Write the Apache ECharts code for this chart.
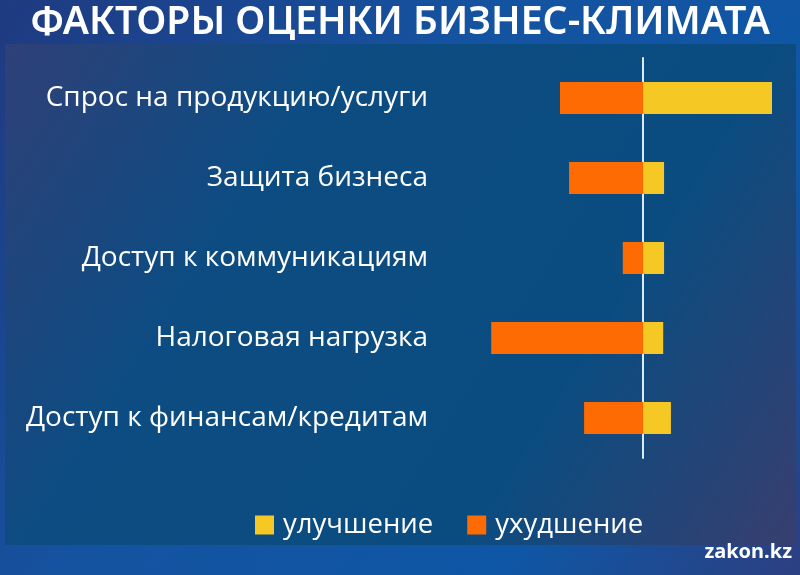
<!DOCTYPE html>
<html>
<head>
<meta charset="utf-8">
<script src="https://cdn.jsdelivr.net/npm/echarts@6/dist/echarts.min.js"></script>
<style>html,body{margin:0;padding:0;background:#174a90;}#chart{width:800px;height:575px;}</style>
</head>
<body>
<div id="chart"></div>
<script>
var titleText = 'ФАКТОРЫ ОЦЕНКИ БИЗНЕС-КЛИМАТА';
var categories = ['Спрос на продукцию/услуги', 'Защита бизнеса', 'Доступ к коммуникациям', 'Налоговая нагрузка', 'Доступ к финансам/кредитам'];
var improvement = [30, 4.9, 4.9, 4.7, 6.5];
var worsening = [-19.3, -17.2, -4.7, -35.3, -13.7];
var seriesNames = ['улучшение', 'ухудшение'];
var watermark = 'zakon.kz';

var chart = echarts.init(document.getElementById('chart'), null, {renderer: 'canvas'});
chart.setOption({
  backgroundColor: 'transparent',
  animation: false,
  graphic: [
    {type: 'rect', z: -10, silent: true, shape: {x: 0, y: 0, width: 800, height: 575},
     style: {fill: new echarts.graphic.LinearGradient(0, 0, 1, 1, [
       {offset: 0, color: '#1f3a80'}, {offset: 0.4, color: '#1553a0'},
       {offset: 0.75, color: '#0e57a6'}, {offset: 1, color: '#2c3f80'}])}},
    {type: 'rect', z: -9, silent: true, shape: {x: 5, y: 44, width: 791, height: 501},
     style: {fill: new echarts.graphic.LinearGradient(0, 0, 1, 1, [
       {offset: 0, color: '#2f4078'}, {offset: 0.3, color: '#0d4c82'},
       {offset: 0.7, color: '#0b4c80'}, {offset: 1, color: '#383e6f'}])}},
    {type: 'text', left: 'center', top: 3, silent: true,
     style: {text: titleText, fill: '#ffffff', font: '600 39px "Noto Sans", "Open Sans", sans-serif'}},
    {type: 'text', right: 8, top: 542, silent: true,
     style: {text: watermark, fill: '#ffffff', font: 'bold 20px "Noto Sans", "Open Sans", sans-serif'}}
  ],
  legend: {
    data: seriesNames,
    left: 250, top: 506,
    itemWidth: 19, itemHeight: 19, itemGap: 34,
    icon: 'rect',
    textStyle: {color: '#ffffff', fontSize: 27.5, fontFamily: '"Open Sans", "Noto Sans", sans-serif', padding: [0, 0, 0, 4]}
  },
  grid: {left: 471, right: 6.5, top: 58, bottom: 117, containLabel: false, outerBoundsMode: 'none'},
  xAxis: {
    type: 'value', min: -40, max: 35,
    show: false, splitLine: {show: false}
  },
  yAxis: {
    type: 'category', data: categories, inverse: true,
    axisLine: {show: true, onZero: true, lineStyle: {color: '#d6ecfb', width: 2}},
    axisTick: {show: false},
    axisLabel: {color: '#ffffff', fontSize: 28, margin: 43, fontFamily: '"Open Sans", "Noto Sans", sans-serif'}
  },
  series: [
    {name: seriesNames[0], type: 'bar', data: improvement, barWidth: 32, barGap: '-100%',
     itemStyle: {color: '#f5c823'}, z: 2},
    {name: seriesNames[1], type: 'bar', data: worsening, barWidth: 32,
     itemStyle: {color: '#fe6b02'}, z: 2}
  ]
});
</script>
</body>
</html>
